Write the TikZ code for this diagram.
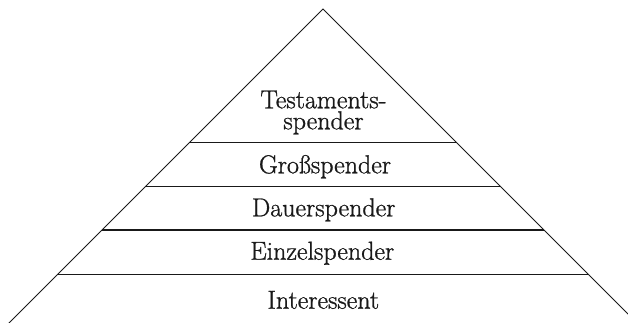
\documentclass[tikz,border=0pt]{standalone}
\usepackage{fontspec}
\setmainfont{Latin Modern Roman}[FakeBold=1]
\begin{document}
\begin{tikzpicture}[x=1pt,y=-1pt,
  side/.style={line width=1pt,black!90},
  layer/.style={line width=1.4pt,black!90},
  lbl/.style={anchor=base,inner sep=0pt,font=\fontsize{26}{21}\selectfont,text=black!90}]
\useasboundingbox (0,0) rectangle (628,322);
\clip (0,0) rectangle (628,322);
\coordinate (apex) at (323,9);
\coordinate (bl) at (-7,339);
\coordinate (br) at (653,339);
\draw[side] (bl) -- (apex) -- (br);
\foreach \n/\y in {a/142.5,b/186.5,c/229.8,d/274.4}{
  \coordinate (L\n) at ({323-(\y-9)},\y);
  \coordinate (R\n) at ({323+(\y-9)},\y);
  \draw[layer] (L\n) -- (R\n);
}
\node[lbl] (t1a) at (323.5,108.3) {Testaments-};
\node[lbl] (t1b) at (323.5,129.3) {spender};
\node[lbl] (t2) at (325,173.3) {Großspender};
\node[lbl] (t3) at (323.7,216.3) {Dauerspender};
\node[lbl] (t4) at (322.3,259.7) {Einzelspender};
\node[lbl] (t5) at (323.3,308.7) {Interessent};
\end{tikzpicture}
\end{document}
